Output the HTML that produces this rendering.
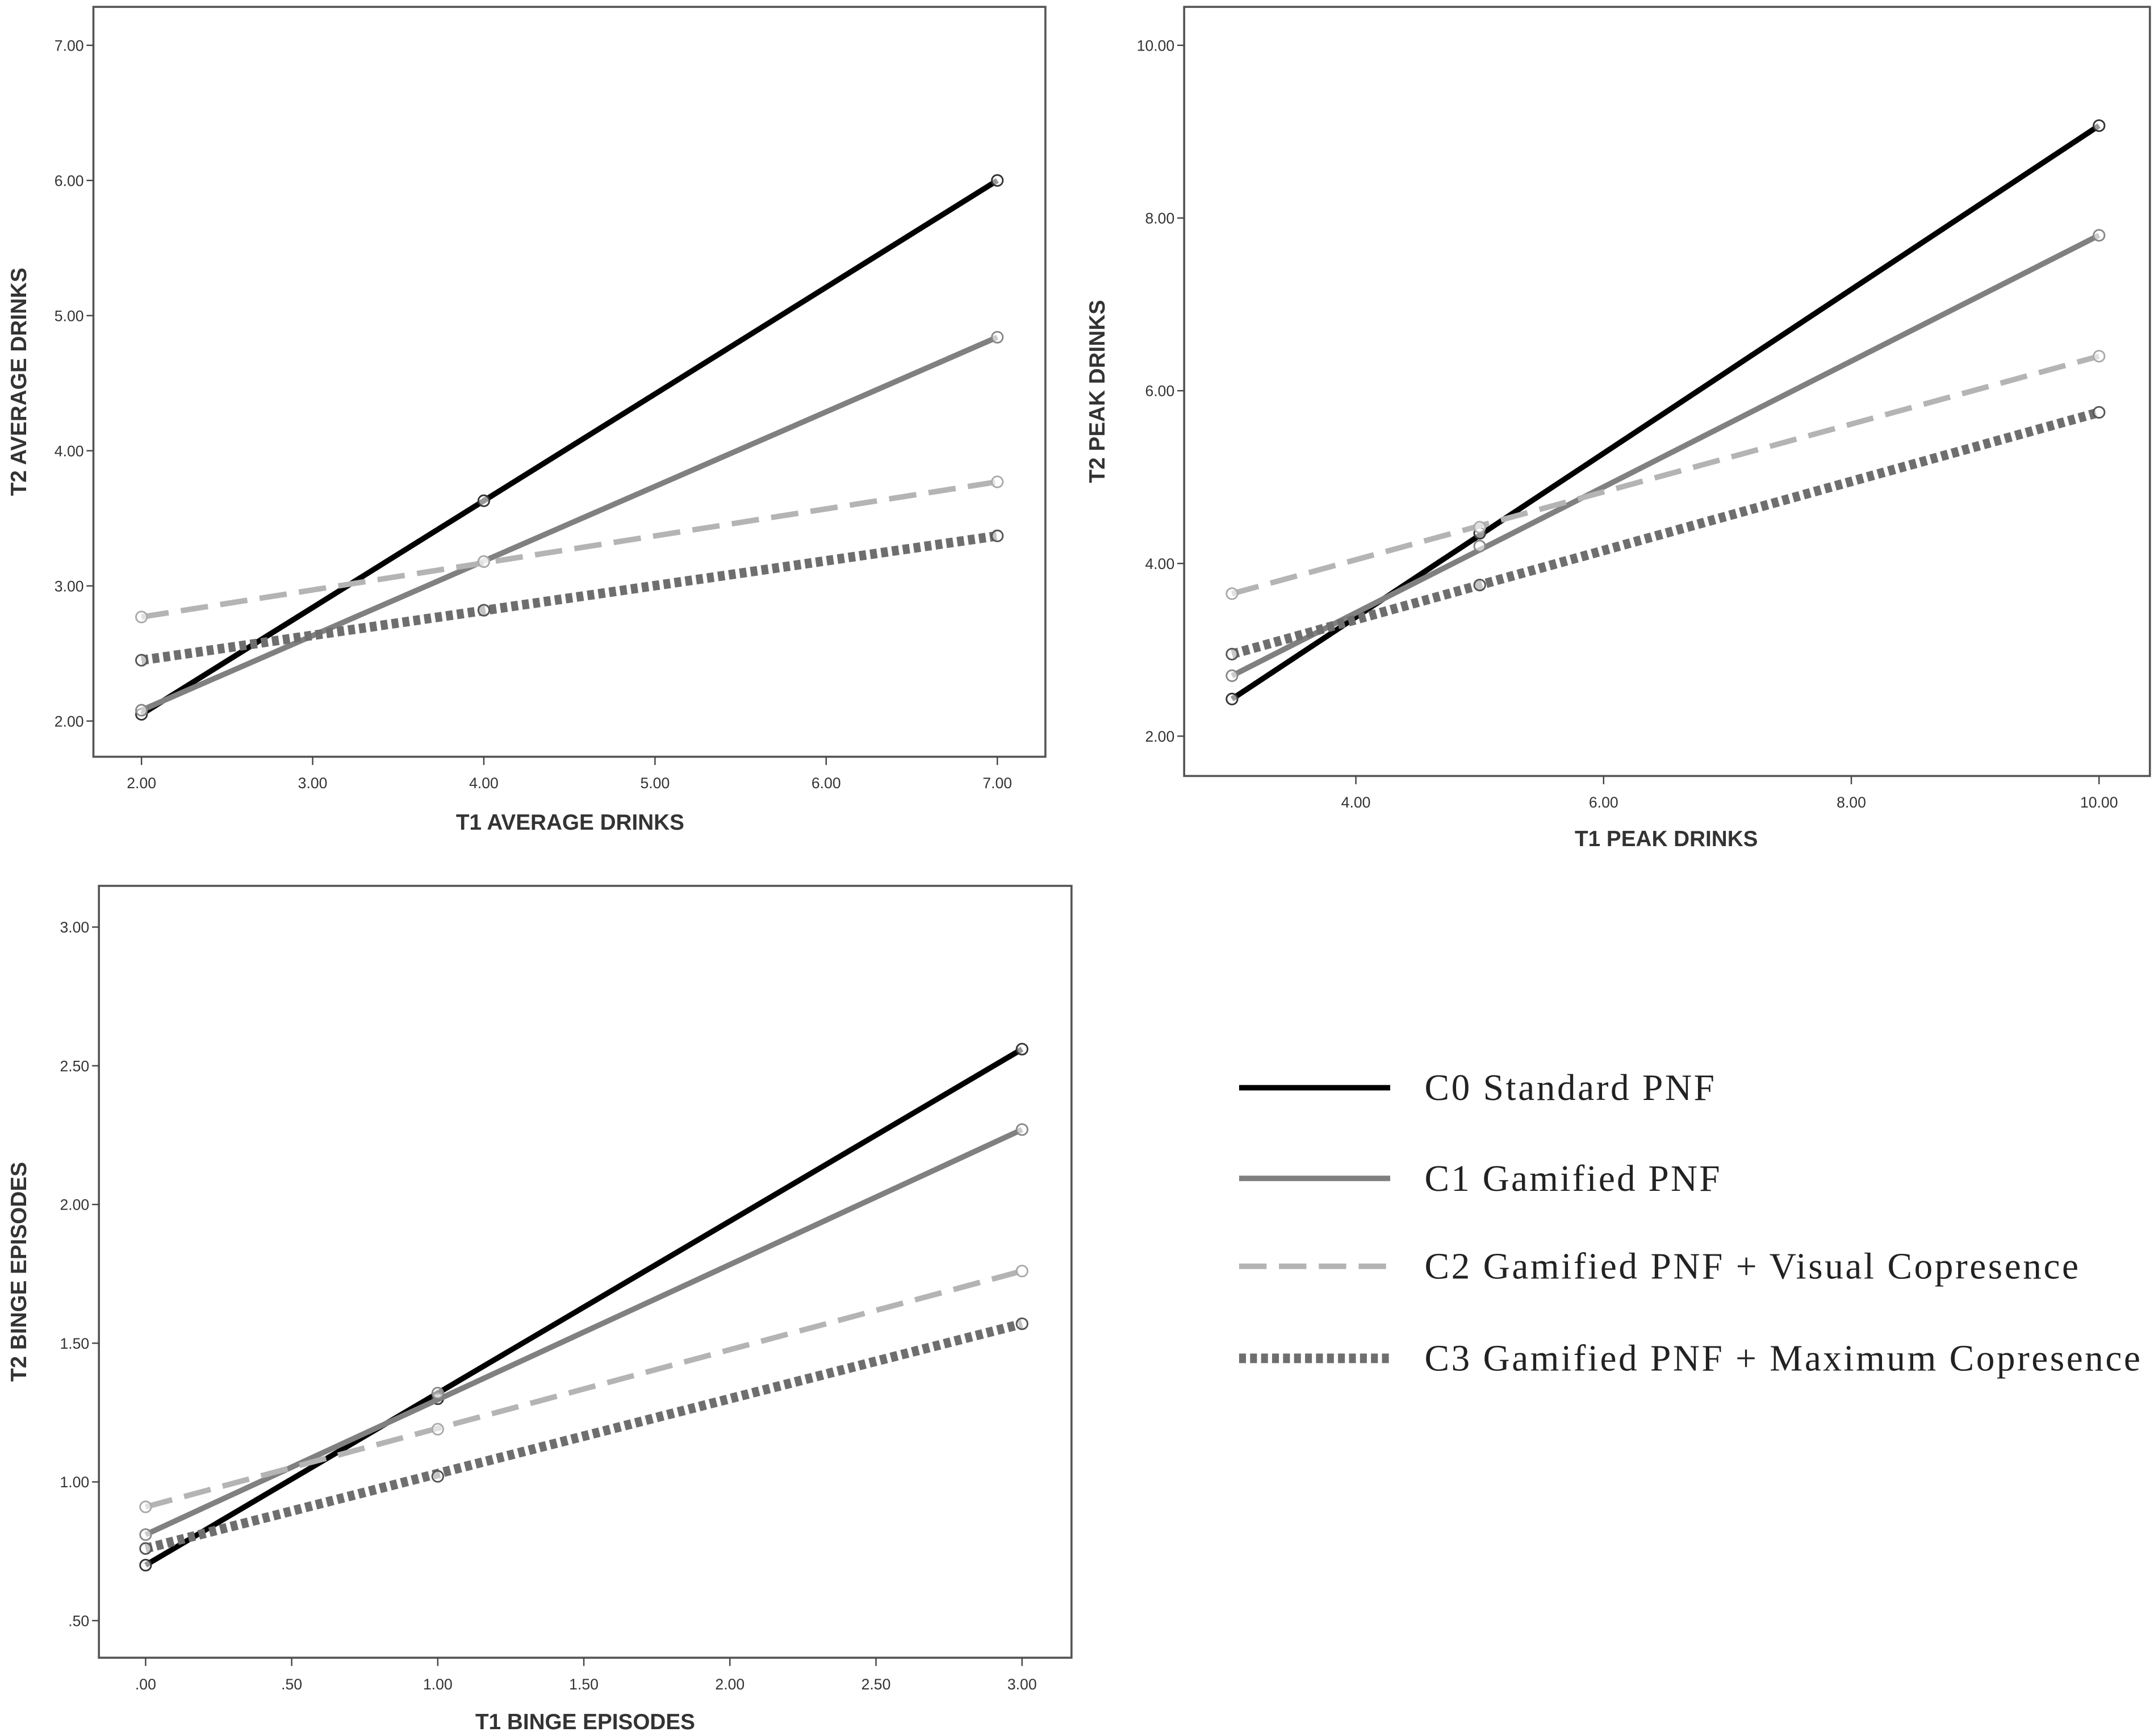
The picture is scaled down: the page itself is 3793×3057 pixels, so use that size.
<!DOCTYPE html>
<html><head><meta charset="utf-8"><style>
html,body{margin:0;padding:0;background:#fff;}
svg{display:block;}
.tick{font-family:"Liberation Sans",sans-serif;font-size:11px;fill:#333;}
.title{font-family:"Liberation Sans",sans-serif;font-size:16px;font-weight:bold;fill:#333;}
.leg{font-family:"Liberation Serif",serif;font-size:27px;fill:#222;}
</style></head><body>
<svg id="chart" width="3793" height="3057" viewBox="0 0 1568 1264" preserveAspectRatio="none" xmlns="http://www.w3.org/2000/svg">
<g id="root"></g>
</svg>
<script>
// Panel 1: average drinks
const p1XValues = [2, 4, 7];
const p1C0 = [2.05, 3.63, 6.00];
const p1C1 = [2.08, 3.18, 4.84];
const p1C2 = [2.77, 3.18, 3.77];
const p1C3 = [2.45, 2.82, 3.37];
const p1XTicks = [2, 3, 4, 5, 6, 7];
const p1YTicks = [2, 3, 4, 5, 6, 7];
// Panel 2: peak drinks
const p2XValues = [3, 5, 10];
const p2C0 = [2.43, 4.35, 9.07];
const p2C1 = [2.70, 4.20, 7.80];
const p2C2 = [3.65, 4.42, 6.40];
const p2C3 = [2.95, 3.75, 5.75];
const p2XTicks = [4, 6, 8, 10];
const p2YTicks = [2, 4, 6, 8, 10];
// Panel 3: binge episodes
const p3XValues = [0, 1, 3];
const p3C0 = [0.70, 1.30, 2.56];
const p3C1 = [0.81, 1.32, 2.27];
const p3C2 = [0.91, 1.19, 1.76];
const p3C3 = [0.76, 1.02, 1.57];
const p3XTicks = [0, 0.5, 1, 1.5, 2, 2.5, 3];
const p3YTicks = [0.5, 1, 1.5, 2, 2.5, 3];
const seriesNames = ["C0 Standard PNF","C1 Gamified PNF","C2 Gamified PNF + Visual Copresence","C3 Gamified PNF + Maximum Copresence"];

const NS="http://www.w3.org/2000/svg";
const root=document.getElementById('root');
function mk(tag,attrs,parent){const e=document.createElementNS(NS,tag);for(const k in attrs)e.setAttribute(k,attrs[k]);(parent||root).appendChild(e);return e;}
const styles=[
 {stroke:"#000",w:4,dash:null,circ:"#333"},
 {stroke:"#808080",w:4,dash:null,circ:"#888"},
 {stroke:"#b4b4b4",w:4,dash:"20 9",circ:"#aaa"},
 {stroke:"#6e6e6e",w:7,dash:"5 3",circ:"#555"}
];
function fmt(v){let s=v.toFixed(2);if(s.startsWith("0."))s=s.slice(1);return s;}
function panel(cfg){
 const g=mk('g',{});
 
 
 const X=v=>cfg.x0px+(v-cfg.x0)*(cfg.x1px-cfg.x0px)/(cfg.x1-cfg.x0);
 const Y=v=>cfg.y0px+(v-cfg.y0)*(cfg.y1px-cfg.y0px)/(cfg.y1-cfg.y0);
 const box=mk('rect',{x:cfg.bx,y:cfg.by,width:cfg.bw,height:cfg.bh,fill:"none",stroke:"#555","stroke-width":1.5},g);
 
 
 const bottom=cfg.by+cfg.bh;
 cfg.xt.forEach(t=>{
  mk('line',{x1:X(t),x2:X(t),y1:bottom,y2:bottom+6,stroke:"#444","stroke-width":1},g);
  const tx=mk('text',{x:X(t),y:bottom+23,"text-anchor":"middle",class:"tick"},g);tx.textContent=fmt(t);
  
  
 });
 cfg.yt.forEach(t=>{
  mk('line',{x1:cfg.bx-5,x2:cfg.bx,y1:Y(t),y2:Y(t),stroke:"#444","stroke-width":1},g);
  const tx=mk('text',{x:cfg.bx-7,y:Y(t)+4,"text-anchor":"end",class:"tick"},g);tx.textContent=fmt(t);
  
  
 });
 const xt=mk('text',{x:cfg.xtitleX,y:cfg.xtitleY,"text-anchor":"middle",class:"title"},g);xt.textContent=cfg.xtitle;
 
 
 const yt=mk('text',{x:0,y:0,"text-anchor":"middle",class:"title",transform:`translate(${cfg.ytitleX},${cfg.by+cfg.bh/2}) rotate(-90)`},g);yt.textContent=cfg.ytitle;
 
 
 cfg.series.forEach((s,i)=>{
  const st=styles[i];const n=s.length-1;
  const ln=mk('line',{x1:X(cfg.xs[0]),y1:Y(s[0]),x2:X(cfg.xs[n]),y2:Y(s[n]),stroke:st.stroke,"stroke-width":st.w},g);
  if(st.dash)ln.setAttribute('stroke-dasharray',st.dash);
  
  
  s.forEach((v,j)=>{
   const c=mk('circle',{cx:X(cfg.xs[j]),cy:Y(v),r:4,fill:"#fff","fill-opacity":0.6,stroke:st.circ,"stroke-width":1.2},g);
   
   
  });
 });
}
panel({name:'panel-average-drinks',bx:68,by:5,bw:693,bh:546,x0:2,x1:7,x0px:103,x1px:726,y0:2,y1:7,y0px:525,y1px:33,
 xt:p1XTicks,yt:p1YTicks,xs:p1XValues,series:[p1C0,p1C1,p1C2,p1C3],xtitle:"T1 AVERAGE DRINKS",ytitle:"T2 AVERAGE DRINKS",xtitleX:415,xtitleY:604,ytitleX:19});
panel({name:'panel-peak-drinks',bx:862,by:5,bw:703,bh:560,x0:4,x1:10,x0px:987,x1px:1528,y0:2,y1:10,y0px:536,y1px:33,
 xt:p2XTicks,yt:p2YTicks,xs:p2XValues,series:[p2C0,p2C1,p2C2,p2C3],xtitle:"T1 PEAK DRINKS",ytitle:"T2 PEAK DRINKS",xtitleX:1213,xtitleY:616,ytitleX:804});
panel({name:'panel-binge-episodes',bx:72,by:645,bw:708,bh:562,x0:0,x1:3,x0px:106,x1px:744,y0:0.5,y1:3,y0px:1180,y1px:675,
 xt:p3XTicks,yt:p3YTicks,xs:p3XValues,series:[p3C0,p3C1,p3C2,p3C3],xtitle:"T1 BINGE EPISODES",ytitle:"T2 BINGE EPISODES",xtitleX:426,xtitleY:1259,ytitleX:19});
// legend
const lg=mk('g',{});


const legY=[792,858,922,989];
const legW=[211,215,476,521];
seriesNames.forEach((nm,i)=>{
 const st=styles[i];
 const l=mk('line',{x1:902,x2:1012,y1:legY[i],y2:legY[i],stroke:st.stroke,"stroke-width":st.w},lg);
 if(st.dash)l.setAttribute('stroke-dasharray',st.dash);
 
 
 const t=mk('text',{x:1037,y:legY[i]+9,class:"leg",textLength:legW[i],lengthAdjust:"spacing"},lg);t.textContent=nm;
 
 
});
</script>
</body></html>
